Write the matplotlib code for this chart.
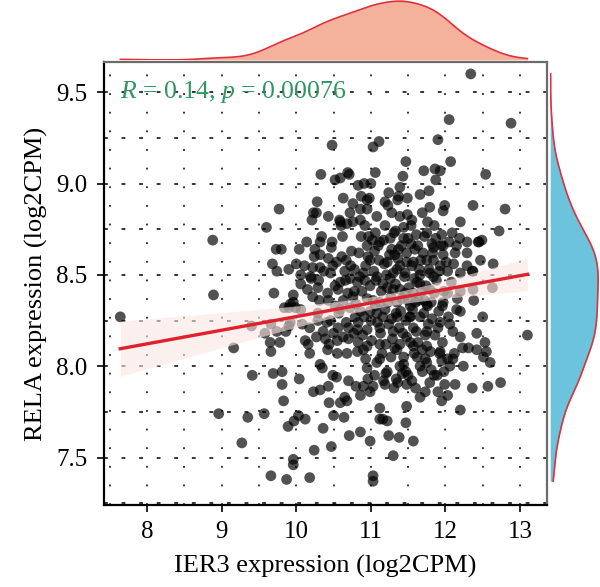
import numpy as np
from matplotlib import pyplot as plt

# (IER3, RELA) pairs, grouped by region
outliersLow = [
    (7.64, 8.27), (8.88, 8.69), (8.89, 8.39), (9.16, 8.10), (8.96, 7.74), (9.35, 7.72),
    (9.27, 7.58), (9.41, 7.95), (9.40, 8.22), (9.57, 7.74), (9.66, 8.23), (9.65, 8.13),
    (9.66, 8.08), (9.78, 8.13), (9.69, 7.96), (9.81, 7.97), (9.81, 7.90), (9.83, 7.81),
    (9.66, 7.40), (9.87, 7.38), (9.96, 7.49), (9.96, 7.46), (10.18, 7.39), (10.24, 7.54),
    (9.89, 7.67), (9.97, 7.70), (10.03, 7.73), (10.12, 7.71), (10.04, 7.93), (9.70, 8.40),
    (9.68, 8.56), (9.74, 8.52), (9.90, 8.53), (9.90, 8.22), (9.92, 8.34), (9.96, 8.35),
    (9.77, 8.86), (9.60, 8.76), (9.73, 8.64), (9.80, 8.64),
]

outliersHigh = [
    (12.34, 9.60), (12.05, 9.35), (12.88, 9.33), (11.90, 9.24), (10.48, 9.21), (11.03, 9.20),
    (11.11, 9.23), (11.47, 9.12), (12.07, 9.12), (11.71, 9.07), (11.86, 9.08), (11.93, 9.07),
    (12.54, 9.05), (11.06, 9.06), (11.43, 9.04), (11.87, 9.02), (10.71, 9.05), (10.33, 9.05),
    (10.52, 9.02), (10.59, 9.03), (10.69, 9.06), (10.83, 8.99), (10.91, 9.00), (11.00, 9.00),
    (11.39, 8.98), (11.24, 8.95), (11.37, 8.93), (11.36, 8.91), (11.78, 8.96), (11.66, 8.94),
    (11.49, 8.92), (10.63, 8.92), (10.87, 8.93), (10.95, 8.91), (10.98, 8.92), (10.28, 8.90),
    (12.37, 8.88), (12.80, 8.86), (11.99, 8.88), (11.97, 8.85), (11.79, 8.87), (11.19, 8.90),
    (11.23, 8.88), (10.76, 8.89), (10.86, 8.86), (10.95, 8.86), (11.08, 8.82), (11.28, 8.84),
    (11.39, 8.82), (11.49, 8.83), (11.55, 8.80), (11.69, 8.84), (11.76, 8.79), (11.85, 8.77),
    (12.20, 8.79), (12.72, 8.74), (12.49, 8.69), (12.45, 8.68), (10.23, 8.84), (10.27, 8.84),
    (10.21, 8.80), (10.43, 8.82), (10.58, 8.80), (10.72, 8.84), (10.76, 8.79), (10.60, 8.77),
    (10.59, 8.79), (10.68, 8.78), (10.86, 8.80), (10.92, 8.77), (11.06, 8.73), (11.19, 8.77),
    (11.33, 8.74), (11.44, 8.76), (11.54, 8.77), (11.61, 8.72), (11.75, 8.73), (11.95, 8.72),
    (12.09, 8.73), (12.19, 8.70), (12.29, 8.68), (11.97, 8.66), (11.84, 8.65),
]

leftCore = [
    (10.04, 8.64), (10.14, 8.68), (10.32, 8.68), (10.48, 8.68), (10.25, 8.64), (10.32, 8.61),
    (10.43, 8.59), (10.67, 8.58), (10.54, 8.57), (10.00, 8.56), (10.11, 8.55), (10.22, 8.54),
    (10.32, 8.54), (10.49, 8.55), (10.65, 8.52), (10.78, 8.53), (10.06, 8.50), (10.19, 8.49),
    (10.30, 8.47), (10.46, 8.51), (10.59, 8.46), (10.72, 8.48), (10.82, 8.46), (10.06, 8.45),
    (10.15, 8.42), (10.29, 8.43), (10.42, 8.40), (10.56, 8.42), (10.69, 8.40), (9.96, 8.39),
    (10.22, 8.38), (10.43, 8.36), (10.63, 8.36), (10.76, 8.38), (9.84, 8.32), (9.90, 8.32),
    (9.99, 8.32), (10.06, 8.31), (10.29, 8.29), (10.59, 8.31), (10.72, 8.32), (9.92, 8.24),
    (10.08, 8.23), (10.18, 8.21), (10.29, 8.25), (10.46, 8.25), (10.56, 8.21), (10.67, 8.24),
    (10.83, 8.24), (9.58, 8.18), (9.74, 8.19), (9.86, 8.19), (10.36, 8.19), (10.50, 8.18),
    (10.63, 8.16), (10.77, 8.18), (10.39, 8.15), (10.55, 8.14), (10.70, 8.15), (10.83, 8.13),
    (10.55, 8.07), (10.68, 8.07), (10.82, 8.08), (10.42, 8.09), (10.12, 8.14), (10.16, 8.12),
    (10.18, 8.07), (10.24, 8.60), (10.31, 8.36), (10.37, 8.52), (10.41, 8.24), (10.47, 8.65),
    (10.52, 8.44), (10.57, 8.29), (10.61, 8.60), (10.66, 8.47), (10.70, 8.21), (10.74, 8.63),
    (10.78, 8.41), (10.34, 8.71), (10.44, 8.12), (10.52, 8.33), (10.62, 8.71), (10.73, 8.55),
    (10.79, 8.27), (10.20, 8.48), (10.27, 8.16),
]

lowCore = [
    (10.32, 8.01), (10.35, 7.99), (10.23, 7.86), (10.32, 7.87), (10.43, 7.89), (10.49, 7.95),
    (10.54, 7.94), (10.44, 7.80), (10.50, 7.73), (10.36, 7.66), (10.47, 7.56), (10.64, 7.72),
    (10.71, 7.62), (10.65, 7.83), (10.70, 7.92), (10.95, 7.99), (11.08, 8.02), (11.22, 7.97),
    (11.39, 8.00), (11.50, 7.95), (11.69, 7.97), (11.75, 8.02), (11.95, 8.03), (12.06, 8.00),
    (12.24, 8.00), (10.90, 7.89), (11.03, 7.89), (11.19, 7.90), (11.36, 7.91), (11.48, 7.90),
    (11.79, 7.91), (11.89, 7.95), (11.99, 7.90), (12.13, 7.90), (12.36, 7.88), (12.57, 7.89),
    (10.86, 7.84), (10.99, 7.86), (11.73, 7.86), (11.66, 7.83), (11.90, 7.86), (12.03, 7.84),
    (11.95, 7.81), (11.48, 7.78), (12.20, 7.76), (11.12, 7.77), (11.16, 7.71), (11.22, 7.70),
    (11.47, 7.69), (10.86, 7.64), (10.99, 7.59), (11.24, 7.62), (11.38, 7.61), (11.57, 7.59),
    (11.30, 7.51), (11.03, 7.40), (11.03, 7.37), (10.80, 7.89), (10.68, 7.81), (10.96, 7.93),
    (11.17, 7.92), (11.20, 7.96), (11.34, 7.93), (11.42, 7.96), (11.47, 7.97), (11.60, 7.88),
    (11.66, 8.00), (11.73, 8.04), (11.85, 7.95), (12.23, 8.10), (12.31, 8.10), (11.92, 8.07),
    (12.03, 8.04), (12.12, 8.07), (12.42, 8.18), (13.10, 8.17), (12.53, 8.13), (12.55, 8.08),
    (12.51, 8.05), (12.60, 8.02), (12.74, 7.91), (10.59, 7.80), (11.12, 7.71), (10.93, 8.04),
    (11.05, 7.95), (11.27, 8.05), (11.31, 7.88), (11.44, 8.01), (11.55, 7.92), (11.62, 8.05),
    (11.81, 7.98), (11.98, 7.97), (12.10, 8.04),
]

mainCore = [
    (10.95, 8.66), (11.12, 8.68), (11.28, 8.64), (11.48, 8.62), (11.63, 8.66), (11.82, 8.67),
    (11.97, 8.61), (12.15, 8.66), (12.29, 8.62), (12.44, 8.68), (10.99, 8.58), (11.22, 8.57),
    (11.39, 8.55), (11.57, 8.57), (11.75, 8.58), (11.93, 8.55), (12.11, 8.56), (12.29, 8.55),
    (12.47, 8.58), (10.90, 8.51), (11.08, 8.49), (11.30, 8.51), (11.46, 8.51), (11.66, 8.50),
    (11.84, 8.49), (12.03, 8.52), (12.20, 8.51), (12.37, 8.52), (10.99, 8.44), (11.22, 8.43),
    (11.39, 8.42), (11.57, 8.40), (11.79, 8.42), (12.03, 8.40), (12.20, 8.41), (12.37, 8.42),
    (10.95, 8.37), (11.12, 8.35), (11.35, 8.35), (11.53, 8.33), (11.75, 8.34), (11.97, 8.35),
    (12.15, 8.31), (10.99, 8.30), (11.16, 8.27), (11.35, 8.27), (11.53, 8.27), (11.66, 8.27),
    (11.93, 8.24), (12.06, 8.23), (12.20, 8.30), (12.50, 8.27), (10.95, 8.20), (11.12, 8.21),
    (11.30, 8.19), (11.48, 8.16), (11.75, 8.19), (12.20, 8.16), (10.95, 8.11), (11.12, 8.12),
    (11.35, 8.09), (11.57, 8.11), (11.75, 8.11), (11.93, 8.08), (12.42, 8.09), (12.64, 8.56),
    (12.36, 8.52), (12.63, 8.43), (12.38, 8.36),
]

extraCore = [
    (10.84, 8.62), (10.88, 8.41), (10.91, 8.27), (10.93, 8.55), (10.97, 8.71), (11.01, 8.14),
    (11.03, 8.36), (11.05, 8.63), (11.07, 8.47), (11.09, 8.24), (11.11, 8.58), (11.14, 8.41),
    (11.15, 8.07), (11.17, 8.69), (11.19, 8.31), (11.21, 8.50), (11.24, 8.23), (11.25, 8.61),
    (11.27, 8.38), (11.29, 8.15), (11.31, 8.73), (11.33, 8.45), (11.34, 8.29), (11.36, 8.59),
    (11.38, 8.21), (11.41, 8.66), (11.42, 8.37), (11.44, 8.05), (11.45, 8.49), (11.47, 8.25),
    (11.50, 8.70), (11.51, 8.43), (11.53, 8.13), (11.55, 8.55), (11.56, 8.31), (11.59, 8.64),
    (11.61, 8.19), (11.62, 8.46), (11.64, 8.36), (11.67, 8.58), (11.69, 8.09), (11.71, 8.29),
    (11.72, 8.71), (11.74, 8.44), (11.77, 8.23), (11.78, 8.53), (11.81, 8.35), (11.83, 8.62),
    (11.86, 8.17), (11.88, 8.47), (11.91, 8.30), (11.94, 8.66), (11.96, 8.13), (11.98, 8.41),
    (12.01, 8.57), (12.04, 8.27), (12.08, 8.46), (12.10, 8.19), (12.13, 8.62), (12.16, 8.37),
    (10.86, 8.30), (10.89, 8.17), (10.92, 8.47), (10.96, 8.60), (11.00, 8.25), (11.04, 8.52),
    (11.06, 8.33), (11.10, 8.66), (11.13, 8.18), (11.16, 8.45), (11.18, 8.56), (11.20, 8.12),
    (11.23, 8.35), (11.26, 8.70), (11.28, 8.26), (11.30, 8.42), (11.32, 8.10), (11.35, 8.53),
    (11.37, 8.64), (11.40, 8.30), (11.43, 8.18), (11.46, 8.40), (11.48, 8.57), (11.52, 8.27),
    (11.54, 8.67), (11.57, 8.21), (11.58, 8.48), (11.60, 8.35), (11.63, 8.13), (11.65, 8.53),
    (11.68, 8.41), (11.70, 8.62), (11.73, 8.17), (11.76, 8.33), (11.79, 8.51), (11.82, 8.26),
    (11.85, 8.40), (11.87, 8.70), (11.90, 8.21), (11.92, 8.52), (10.80, 8.34), (10.82, 8.20),
    (10.85, 8.49), (10.87, 8.71), (10.90, 8.09), (11.02, 8.69), (11.08, 8.29), (11.12, 8.04),
    (11.26, 8.48), (11.32, 8.61), (11.39, 8.12), (11.44, 8.70), (11.50, 8.36), (11.58, 8.07),
    (11.66, 8.45), (11.72, 8.36), (11.80, 8.08), (11.84, 8.58), (11.96, 8.33), (12.05, 8.68),
]

statText = r"$R$ = 0.14, $p$ = 0.00076"


def kde(values, grid):
    # gaussian kernel, silverman bandwidth (like R's bw.nrd0)
    sd = values.std(ddof=1)
    iqr = np.subtract(*np.percentile(values, [75, 25]))
    bw = 0.9 * min(sd, iqr / 1.34) * len(values) ** -0.2
    z = (grid[:, None] - values[None, :]) / bw
    return np.exp(-0.5 * z ** 2).sum(axis=1) / (len(values) * bw * np.sqrt(2 * np.pi))


def main():
    pts = np.array(outliersLow + outliersHigh + leftCore + lowCore + mainCore + extraCore)
    x = pts[:, 0]
    y = pts[:, 1]

    plt.rcParams['font.family'] = ['Liberation Serif', 'DejaVu Serif']
    plt.rcParams['mathtext.fontset'] = 'custom'
    plt.rcParams['mathtext.it'] = 'Liberation Serif:italic'
    plt.rcParams['mathtext.rm'] = 'Liberation Serif'

    fig = plt.figure(figsize=(6, 5.87), dpi=100)
    ax = fig.add_axes([0.173, 0.140, 0.739, 0.754])
    axTop = fig.add_axes([0.173, 0.898, 0.739, 0.102], sharex=ax)
    axRight = fig.add_axes([0.917, 0.140, 0.083, 0.754], sharey=ax)

    # grid
    for gx in np.arange(7.5, 13.01, 0.5):
        ax.axvline(gx, color='black', lw=1.1, ls=(0, (1.2, 11)), zorder=0)
    for gy in np.arange(7.25, 9.51, 0.25):
        ax.axhline(gy, color='black', lw=1.1, ls=(0, (2.5, 9)), zorder=0)

    # regression with 95% band
    slope, icpt = np.polyfit(x, y, 1)
    xs = np.linspace(x.min(), x.max(), 100)
    fit = icpt + slope * xs
    n = len(x)
    resid = y - (icpt + slope * x)
    s = np.sqrt((resid ** 2).sum() / (n - 2))
    se = s * np.sqrt(1.0 / n + (xs - x.mean()) ** 2 / ((x - x.mean()) ** 2).sum())
    ax.fill_between(xs, fit - 1.96 * se, fit + 1.96 * se, color='#fbe6e3', alpha=0.6, lw=0, zorder=3)

    ax.scatter(x, y, s=60, color='black', alpha=0.68, edgecolors='none', zorder=2)
    ax.plot(xs, fit, color='#e0202a', lw=2.4, zorder=4)

    ax.text(7.63, 9.5, statText, color='#2e9560', fontsize=18.5, va='center', ha='left',
            zorder=5)

    ax.set_xlim(7.419, 13.365)
    ax.set_ylim(7.241, 9.664)
    ax.set_xticks([8, 9, 10, 11, 12, 13])
    ax.set_yticks([7.5, 8.0, 8.5, 9.0, 9.5])
    ax.set_yticklabels(['7.5', '8.0', '8.5', '9.0', '9.5'])
    ax.tick_params(labelsize=18, length=5, width=1.2, color='black', pad=7)
    ax.set_xlabel("IER3 expression (log2CPM)", fontsize=19, labelpad=8)
    ax.set_ylabel("RELA expression (log2CPM)", fontsize=19, labelpad=6)
    for side in ['left', 'bottom']:
        ax.spines[side].set_linewidth(1.6)
        ax.spines[side].set_color('black')
    for side in ['top', 'right']:
        ax.spines[side].set_linewidth(1.6)
        ax.spines[side].set_color('#6b6b6b')

    # marginal densities
    gx = np.linspace(x.min(), x.max(), 300)
    dx = kde(x, gx)
    axTop.fill_between(gx, 0, dx, color='#f4b19b', lw=0)
    axTop.plot(gx, dx, color='#e0303a', lw=1.2)
    axTop.set_ylim(0, dx.max() * 1.02)
    axTop.axis('off')

    gy = np.linspace(y.min(), y.max(), 300)
    dy = kde(y, gy)
    axRight.fill_betweenx(gy, 0, dy, color='#6cc4dc', lw=0)
    axRight.plot(dy, gy, color='#e0303a', lw=1.2)
    axRight.set_xlim(0, dy.max() * 1.04)
    axRight.axis('off')

    fig.savefig("out.png", dpi=100)


if __name__ == "__main__":
    main()
